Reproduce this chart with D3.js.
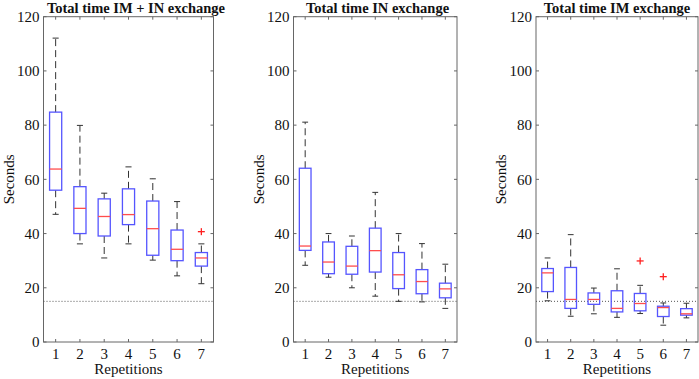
<!DOCTYPE html>
<html>
<head>
<meta charset="utf-8">
<script src="https://cdn.jsdelivr.net/npm/d3@7/dist/d3.min.js"></script>
<style>
  html, body { margin: 0; padding: 0; background: #fff; }
  svg { display: block; font-family: "Liberation Serif", "Times New Roman", serif; }
</style>
</head>
<body>
<svg id="chart" width="699" height="379"></svg>
<script>
// ---- data ----
const repetitions = [1, 2, 3, 4, 5, 6, 7];
const yTicks = [0, 20, 40, 60, 80, 100, 120];
const titles = ["Total time IM + IN exchange", "Total time IN exchange", "Total time IM exchange"];
const referenceLine = 15;

// Panel 1: Total time IM + IN exchange
const p1Low    = [47.1, 36.2, 31.0, 36.2, 30.2, 24.4, 21.5];
const p1Q1     = [56.0, 40.0, 39.1, 43.3, 32.0, 30.0, 28.0];
const p1Median = [63.8, 49.3, 46.3, 47.0, 41.8, 34.2, 31.0];
const p1Q3     = [84.8, 57.3, 52.8, 56.5, 52.0, 41.3, 33.0];
const p1High   = [112.1, 79.9, 54.9, 64.6, 60.2, 51.8, 36.2];
const p1Outliers = [[7, 40.7]];

// Panel 2: Total time IN exchange
const p2Low    = [28.3, 23.9, 20.0, 16.9, 15.0, 14.8, 12.4];
const p2Q1     = [33.8, 25.2, 25.0, 25.8, 19.7, 17.8, 16.3];
const p2Median = [35.4, 29.5, 28.0, 33.7, 24.8, 22.3, 19.6];
const p2Q3     = [64.1, 36.9, 35.3, 42.0, 33.0, 26.7, 21.7];
const p2High   = [81.1, 40.0, 39.1, 55.2, 40.0, 36.3, 28.7];
const p2Outliers = [];

// Panel 3: Total time IM exchange
const p3Low    = [15.2, 9.5, 10.4, 9.1, 10.5, 6.2, 8.9];
const p3Q1     = [18.6, 12.4, 13.9, 11.1, 11.5, 9.4, 9.9];
const p3Median = [25.5, 15.7, 15.7, 12.4, 14.2, 12.7, 10.4];
const p3Q3     = [27.1, 27.5, 18.1, 18.9, 17.9, 13.2, 12.3];
const p3High   = [31.0, 39.6, 19.9, 27.0, 20.9, 14.4, 14.3];
const p3Outliers = [[5, 29.9], [6, 24.1]];

function buildRows(low, q1, med, q3, high) {
  return repetitions.map((r, i) => ({ rep: r, low: low[i], q1: q1[i], med: med[i], q3: q3[i], high: high[i] }));
}

const panels = [
  { title: titles[0], rows: buildRows(p1Low, p1Q1, p1Median, p1Q3, p1High), outliers: p1Outliers,
    left: 43.5, right: 213.5, titleX: 136 },
  { title: titles[1], rows: buildRows(p2Low, p2Q1, p2Median, p2Q3, p2High), outliers: p2Outliers,
    left: 293.5, right: 457, titleX: 377.5 },
  { title: titles[2], rows: buildRows(p3Low, p3Q1, p3Median, p3Q3, p3High), outliers: p3Outliers,
    left: 536, right: 698, titleX: 617 }
];

const plotTop = 16.7, plotBottom = 342;
const svg = d3.select("#chart");
const axisColor = "#666";
const boxColor = "#5555ff";
const medColor = "#ff4d4d";
const whiskerColor = "#333";

panels.forEach(p => {
  const x = d3.scaleLinear().domain([0.5, 7.5]).range([p.left, p.right]);
  const y = d3.scaleLinear().domain([0, 120]).range([plotBottom, plotTop]);
  const g = svg.append("g");
  const boxW = (x(1) - x(0.5));
  const halfBox = boxW / 2;
  const halfCap = boxW / 4;

  // frame
  g.append("rect").attr("x", p.left).attr("y", plotTop)
    .attr("width", p.right - p.left).attr("height", plotBottom - plotTop)
    .attr("fill", "none").attr("stroke", axisColor).attr("stroke-width", 1);

  const tl = 3;
  yTicks.forEach(t => {
    g.append("line").attr("x1", p.left).attr("x2", p.left + tl).attr("y1", y(t)).attr("y2", y(t))
      .attr("stroke", axisColor);
    g.append("line").attr("x1", p.right).attr("x2", p.right - tl).attr("y1", y(t)).attr("y2", y(t))
      .attr("stroke", axisColor);
    g.append("text").attr("x", p.left - 4).attr("y", y(t)).attr("dy", "0.35em")
      .attr("text-anchor", "end").attr("font-size", 15).attr("fill", "#111").text(t);
  });
  repetitions.forEach(r => {
    g.append("line").attr("x1", x(r)).attr("x2", x(r)).attr("y1", plotBottom).attr("y2", plotBottom - tl)
      .attr("stroke", axisColor);
    g.append("line").attr("x1", x(r)).attr("x2", x(r)).attr("y1", plotTop).attr("y2", plotTop + tl)
      .attr("stroke", axisColor);
    g.append("text").attr("x", x(r)).attr("y", 358.5)
      .attr("text-anchor", "middle").attr("font-size", 15).attr("fill", "#111").text(r);
  });

  // reference dotted line
  g.append("line").attr("x1", p.left).attr("x2", p.right)
    .attr("y1", y(referenceLine)).attr("y2", y(referenceLine))
    .attr("stroke", "#555").attr("stroke-width", 1).attr("stroke-dasharray", "1,2");

  const b = g.selectAll("g.box").data(p.rows).enter().append("g").attr("class", "box");
  b.append("line").attr("x1", d => x(d.rep)).attr("x2", d => x(d.rep))
    .attr("y1", d => y(d.q3)).attr("y2", d => y(d.high))
    .attr("stroke", whiskerColor).attr("stroke-width", 1).attr("stroke-dasharray", "7,4");
  b.append("line").attr("x1", d => x(d.rep)).attr("x2", d => x(d.rep))
    .attr("y1", d => y(d.q1)).attr("y2", d => y(d.low))
    .attr("stroke", whiskerColor).attr("stroke-width", 1).attr("stroke-dasharray", "7,4");
  b.append("line").attr("x1", d => x(d.rep) - halfCap).attr("x2", d => x(d.rep) + halfCap)
    .attr("y1", d => y(d.high)).attr("y2", d => y(d.high))
    .attr("stroke", whiskerColor).attr("stroke-width", 1);
  b.append("line").attr("x1", d => x(d.rep) - halfCap).attr("x2", d => x(d.rep) + halfCap)
    .attr("y1", d => y(d.low)).attr("y2", d => y(d.low))
    .attr("stroke", whiskerColor).attr("stroke-width", 1);
  b.append("rect").attr("x", d => x(d.rep) - halfBox).attr("width", boxW)
    .attr("y", d => y(d.q3)).attr("height", d => y(d.q1) - y(d.q3))
    .attr("fill", "none").attr("stroke", boxColor).attr("stroke-width", 1.3);
  b.append("line").attr("x1", d => x(d.rep) - halfBox).attr("x2", d => x(d.rep) + halfBox)
    .attr("y1", d => y(d.med)).attr("y2", d => y(d.med))
    .attr("stroke", medColor).attr("stroke-width", 1.3);

  const o = g.selectAll("g.out").data(p.outliers).enter().append("g").attr("class", "out");
  o.append("line").attr("x1", d => x(d[0]) - 3.5).attr("x2", d => x(d[0]) + 3.5)
    .attr("y1", d => y(d[1])).attr("y2", d => y(d[1])).attr("stroke", "#ff2020").attr("stroke-width", 1.3);
  o.append("line").attr("x1", d => x(d[0])).attr("x2", d => x(d[0]))
    .attr("y1", d => y(d[1]) - 3.5).attr("y2", d => y(d[1]) + 3.5).attr("stroke", "#ff2020").attr("stroke-width", 1.3);

  g.append("text").attr("x", p.titleX).attr("y", 13).attr("text-anchor", "middle")
    .attr("font-size", 14.5).attr("font-weight", "bold").attr("fill", "#111").text(p.title);
  g.append("text").attr("x", (p.left + p.right) / 2).attr("y", 373.5).attr("text-anchor", "middle")
    .attr("font-size", 15).attr("fill", "#111").text("Repetitions");
  g.append("text").attr("transform", `translate(${p.left - 30},${(plotTop + plotBottom) / 2}) rotate(-90)`)
    .attr("text-anchor", "middle").attr("font-size", 15).attr("fill", "#111").text("Seconds");
});
</script>
</body>
</html>
